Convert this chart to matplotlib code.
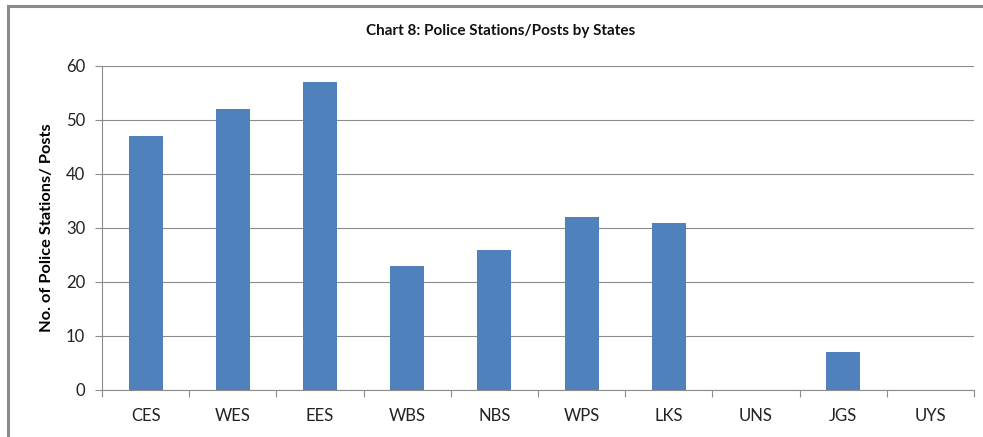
import matplotlib.pyplot as plt
from matplotlib.lines import Line2D
import numpy as np

states = ['CES', 'WES', 'EES', 'WBS', 'NBS', 'WPS', 'LKS', 'UNS', 'JGS', 'UYS']
stations = [47, 52, 57, 23, 26, 32, 31, 0, 7, 0]

plt.rcParams['font.family'] = ['Lato', 'DejaVu Sans']

fig = plt.figure(figsize=(9.83, 4.37), dpi=100)
ax = fig.add_axes([102 / 983, 1 - 390 / 437, 872 / 983, 324 / 437])

x = np.arange(len(states))
ax.bar(x, stations, width=0.39, color='#4F81BD', zorder=3)

ax.set_xlim(-0.5, len(states) - 0.5)
ax.set_ylim(0, 60)
ax.set_yticks(range(0, 61, 10))
ax.set_xticks(x)
ax.set_xticklabels(states)
ax.set_xticks(np.arange(-0.5, len(states), 1), minor=True)

grid_c = '#8C8C8C'
ax.yaxis.grid(True, color=grid_c, linewidth=0.8, zorder=0)
for side in ['top', 'right']:
    ax.spines[side].set_visible(False)
for side in ['left', 'bottom']:
    ax.spines[side].set_color(grid_c)
    ax.spines[side].set_linewidth(0.8)

ax.tick_params(axis='y', length=5, color=grid_c, width=0.8, pad=7,
               labelsize=12, labelcolor='#222222')
ax.tick_params(axis='x', which='major', length=0, pad=13,
               labelsize=12, labelcolor='#222222')
ax.tick_params(axis='x', which='minor', length=5, color=grid_c, width=0.8)

ax.set_ylabel('No. of Police Stations/ Posts', fontsize=11.8, fontweight='bold',
              labelpad=9)

fig.text(501 / 983, 1 - 31 / 437, 'Chart 8: Police Stations/Posts by States',
         ha='center', va='center', fontsize=11, fontweight='bold',
         color='#111111')

# outer chart frame: left and top edges only
frame_kw = dict(transform=fig.transFigure, color='#8A8A8A', linewidth=2.2)
fig.add_artist(Line2D([8 / 983, 8 / 983], [0, 1 - 6 / 437], **frame_kw))
fig.add_artist(Line2D([8 / 983, 1], [1 - 6 / 437, 1 - 6 / 437], **frame_kw))

fig.savefig('out.png', dpi=100)
